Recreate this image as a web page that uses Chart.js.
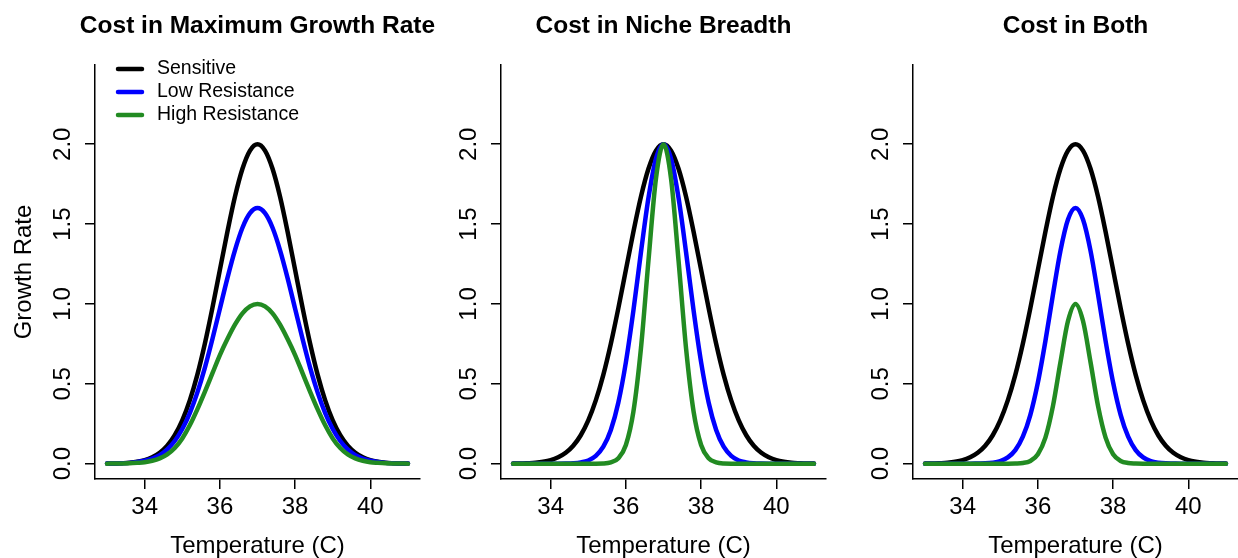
<!DOCTYPE html>
<html>
<head>
<meta charset="utf-8">
<script src="https://cdn.jsdelivr.net/npm/chart.js@4.4.1/dist/chart.umd.min.js"></script>
<style>
  html, body { margin: 0; padding: 0; background: #fff; overflow: hidden; }
  #wrap { position: relative; width: 1238px; height: 558px; overflow: hidden; }
  #wrap canvas { position: absolute; top: 0; }
</style>
</head>
<body>
<div id="wrap">
  <canvas id="p1" width="515" height="558" style="left:0px"></canvas>
  <canvas id="p2" width="515" height="558" style="left:406px"></canvas>
  <canvas id="p3" width="515" height="558" style="left:818px"></canvas>
</div>
<script>
// === Data ===
const temps = [33.0,33.2,33.4,33.6,33.8,34.0,34.2,34.4,34.6,34.8,35.0,35.2,35.4,35.6,35.8,36.0,36.2,36.4,36.6,36.8,
               37.0,37.2,37.4,37.6,37.8,38.0,38.2,38.4,38.6,38.8,39.0,39.2,39.4,39.6,39.8,40.0,40.2,40.4,40.6,40.8,41.0];

const xTicks = [34, 36, 38, 40];
const yTicks = [0, 0.5, 1.0, 1.5, 2.0];

const seriesNames = ["Sensitive", "Low Resistance", "High Resistance"];
const panelTitles = ["Cost in Maximum Growth Rate", "Cost in Niche Breadth", "Cost in Both"];

// sensitive strain, same in every panel
const sensitive = [0.001,0.001,0.003,0.006,0.012,0.022,0.040,0.068,0.112,0.178,0.271,0.396,0.556,0.751,0.974,1.213,1.452,1.671,1.846,1.960,
                   2.000,1.960,1.846,1.671,1.452,1.213,0.974,0.751,0.556,0.396,0.271,0.178,0.112,0.068,0.040,0.022,0.012,0.006,0.003,0.001,0.001];

// panel 1: cost in max growth rate
const lowRateCost = [0.001,0.001,0.002,0.005,0.010,0.018,0.032,0.054,0.090,0.142,0.217,0.317,0.445,0.600,0.779,0.970,1.162,1.336,1.477,1.568,
                     1.600,1.568,1.477,1.336,1.162,0.970,0.779,0.600,0.445,0.317,0.217,0.142,0.090,0.054,0.032,0.018,0.010,0.005,0.002,0.001,0.001];
const highRateCost = [0.000,0.001,0.001,0.002,0.005,0.009,0.018,0.033,0.058,0.098,0.158,0.240,0.340,0.450,0.565,0.680,0.780,0.870,0.941,0.985,
                      1.000,0.985,0.941,0.870,0.780,0.680,0.565,0.450,0.340,0.240,0.158,0.098,0.058,0.033,0.018,0.009,0.005,0.002,0.001,0.001,0.000];

// panel 2: cost in niche breadth
const lowBreadthCost = [0,0,0,0,0,0,0,0.001,0.003,0.008,0.020,0.049,0.106,0.211,0.383,0.635,0.959,1.323,1.664,1.910,
                        2.000,1.910,1.664,1.323,0.959,0.635,0.383,0.211,0.106,0.049,0.020,0.008,0.003,0.001,0,0,0,0,0,0,0];
const highBreadthCost = [0,0,0,0,0,0,0,0,0,0,0,0,0.001,0.008,0.034,0.117,0.326,0.721,1.271,1.786,
                         2.000,1.786,1.271,0.721,0.326,0.117,0.034,0.008,0.001,0,0,0,0,0,0,0,0,0,0,0,0];

// panel 3: cost in both
const lowBothCost = [0,0,0,0,0,0,0,0.001,0.002,0.006,0.016,0.039,0.085,0.169,0.306,0.508,0.768,1.058,1.332,1.528,
                     1.600,1.528,1.332,1.058,0.768,0.508,0.306,0.169,0.085,0.039,0.016,0.006,0.002,0.001,0,0,0,0,0,0,0];
const highBothCost = [0,0,0,0,0,0,0,0,0,0,0,0,0.001,0.004,0.017,0.059,0.163,0.360,0.635,0.893,
                      1.000,0.893,0.635,0.360,0.163,0.059,0.017,0.004,0.001,0,0,0,0,0,0,0,0,0,0,0,0];

// === Style ===
const FONT = '"Liberation Sans", Arial, Helvetica, sans-serif';
const COLORS = ["#000000", "#0000ff", "#228b22"];
Chart.defaults.font.family = FONT;
Chart.defaults.color = "#000";

// R style legend in the top-left corner of the plot region
const rLegend = {
  id: "rLegend",
  afterDatasetsDraw(chart, args, opts){
    if (!opts.show) return;
    const {ctx, chartArea} = chart;
    ctx.save();
    ctx.font = "19.5px " + FONT;
    ctx.textBaseline = "middle";
    ctx.textAlign = "left";
    ctx.lineCap = "round";
    chart.data.datasets.forEach((ds, i)=>{
      const y = chartArea.top + 4 + i*23;
      ctx.strokeStyle = ds.borderColor;
      ctx.lineWidth = 4.5;
      ctx.beginPath();
      ctx.moveTo(chartArea.left + 23, y);
      ctx.lineTo(chartArea.left + 47, y);
      ctx.stroke();
      ctx.fillStyle = "#000";
      ctx.fillText(ds.label, chartArea.left + 62, y);
    });
    ctx.restore();
  }
};

function makePanel(id, title, values, showYTitle, showLegend){
  const datasets = values.map((vals, i)=>({
    label: seriesNames[i],
    data: temps.map((t, j)=>({x: t, y: vals[j]})),
    borderColor: COLORS[i],
    backgroundColor: COLORS[i],
    borderWidth: 4.5,
    pointRadius: 0,
    fill: false,
    cubicInterpolationMode: "monotone",
    borderCapStyle: "round",
    borderJoinStyle: "round",
    order: 3 - i
  }));

  return new Chart(document.getElementById(id), {
    type: "line",
    data: { datasets },
    options: {
      responsive: false,
      animation: false,
      events: [],
      layout: { padding: 0 },
      plugins: {
        legend: { display: false },
        tooltip: { enabled: false },
        title: {
          display: true, text: title, color: "#000",
          font: { size: 24.5, weight: "bold", lineHeight: 1 },
          padding: { top: 14, bottom: 26.5 }
        },
        rLegend: { show: showLegend }
      },
      scales: {
        x: {
          type: "linear", min: 32.68, max: 41.32,
          afterBuildTicks: s => { s.ticks = xTicks.map(v=>({value: v})); },
          afterFit: s => { s.height = 79; },
          grid: { display: true, drawOnChartArea: false, drawTicks: true, tickLength: 10, color: "#000", lineWidth: 1.5 },
          border: { display: true, color: "#000", width: 1.5 },
          ticks: { color: "#000", font: { size: 24, lineHeight: 1 }, padding: 6, maxRotation: 0, minRotation: 0, autoSkip: false,
                   callback: v => String(v) },
          title: { display: true, text: "Temperature (C)", color: "#000", font: { size: 24, lineHeight: 1 }, padding: { top: 0, bottom: 0 } }
        },
        y: {
          type: "linear", position: "left", min: -0.096, max: 2.496,
          afterBuildTicks: s => { s.ticks = yTicks.map(v=>({value: v})); },
          afterFit: s => { s.width = 95; },
          grid: { display: true, drawOnChartArea: false, drawTicks: true, tickLength: 10, color: "#000", lineWidth: 1.5 },
          border: { display: true, color: "#000", width: 1.5 },
          ticks: { color: "#000", font: { size: 24, lineHeight: 1 }, padding: 5, minRotation: 90, maxRotation: 90,
                   crossAlign: "center", autoSkip: false, callback: v => v.toFixed(1) },
          title: { display: showYTitle, text: "Growth Rate", color: "#000", font: { size: 24, lineHeight: 1 }, padding: { top: 12, bottom: 0 } }
        },
        // empty right margin so the title centres over the plot like R does
        pad: {
          type: "linear", position: "right", display: true,
          afterFit: s => { s.width = 95; },
          grid: { display: false }, border: { display: false }, ticks: { display: false }
        }
      }
    },
    plugins: [rLegend]
  });
}

makePanel("p1", panelTitles[0], [sensitive, lowRateCost, highRateCost], true, true);
makePanel("p2", panelTitles[1], [sensitive, lowBreadthCost, highBreadthCost], false, false);
makePanel("p3", panelTitles[2], [sensitive, lowBothCost, highBothCost], false, false);
</script>
</body>
</html>
